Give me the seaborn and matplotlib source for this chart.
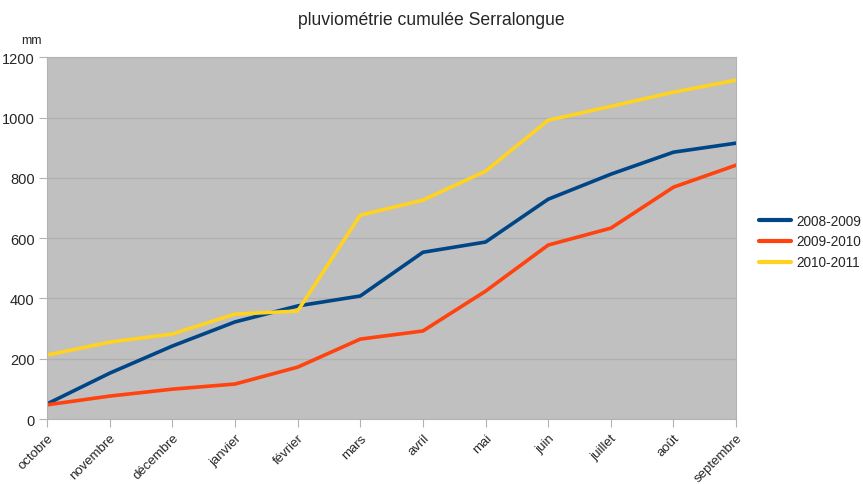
import pandas as pd
import numpy as np
import seaborn as sns
import matplotlib.pyplot as plt

# monthly labels (hydrological year, october -> september)
mois = ["octobre", "novembre", "décembre", "janvier", "février", "mars",
        "avril", "mai", "juin", "juillet", "août", "septembre"]

# cumulated rainfall in mm
pluie_2008_2009 = [50, 152, 242, 322, 375, 408, 553, 587, 729, 812, 885, 915]
pluie_2009_2010 = [47, 76, 99, 116, 172, 265, 292, 424, 577, 633, 769, 842]
pluie_2010_2011 = [212, 255, 282, 348, 358, 676, 726, 822, 991, 1037, 1084, 1124]

saisons = ["2008-2009", "2009-2010", "2010-2011"]
couleurs = ["#004586", "#ff420e", "#ffd320"]

#long format for seaborn
frames = []
for saison, vals in zip(saisons, [pluie_2008_2009, pluie_2009_2010, pluie_2010_2011]):
    frames.append(pd.DataFrame({"idx": range(len(mois)), "mm": vals, "saison": saison}))
data = pd.concat(frames, ignore_index=True)

sns.set_style("white")
plt.rcParams["font.family"] = ["Liberation Sans", "DejaVu Sans"]

fig = plt.figure(figsize=(8.63, 4.85), dpi=100)
ax = fig.add_axes([0.0545, 0.134, 0.7985, 0.746])
ax.set_facecolor("#c0c0c0")

sns.lineplot(data=data, x="idx", y="mm", hue="saison", palette=couleurs,
             linewidth=2.6, sort=False, ax=ax, legend=True)

ax.set_xlim(0, len(mois) - 1)
ax.set_ylim(0, 1200)
ax.set_yticks(range(0, 1201, 200))
ax.set_xticks(range(len(mois)))
ax.set_xticklabels(mois, rotation=45, ha="right", rotation_mode="anchor", fontsize=9.5)
ax.tick_params(axis="y", labelsize=10.5, length=6, color="#b3b3b3", direction="out", left=True, pad=3)
ax.tick_params(axis="x", length=6, color="#b3b3b3", direction="out", bottom=True, pad=3)
ax.grid(axis="y", color="#b0b0b0", linewidth=0.9)
ax.set_axisbelow(True)
for s in ax.spines.values():
    s.set_color("#b3b3b3")
ax.set_xlabel("")
ax.set_ylabel("")

fig.text(0.5, 0.975, "pluviométrie cumulée Serralongue", ha="center", va="top", fontsize=12.7)
fig.text(0.024, 0.915, "mm", ha="left", va="center", fontsize=9)

handles, labels = ax.get_legend_handles_labels()
ax.get_legend().remove()
leg = fig.legend(handles, labels, loc="center left", bbox_to_anchor=(0.879, 0.5),
                 frameon=False, borderaxespad=0, borderpad=0,
                 fontsize=9.8, handlelength=2.4, handletextpad=0.35, labelspacing=0.5)
for line in leg.get_lines():
    line.set_linewidth(3)

fig.savefig("out.png", dpi=100)
